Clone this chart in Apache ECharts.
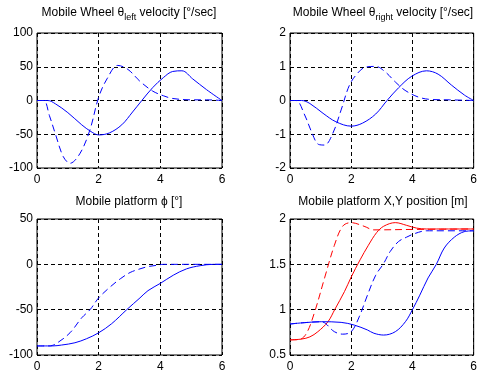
<!DOCTYPE html>
<html>
<head>
<meta charset="utf-8">
<script src="https://cdn.jsdelivr.net/npm/echarts@6/dist/echarts.min.js"></script>
<style>html,body{margin:0;padding:0;background:#fff;}#c{width:480px;height:374px;}</style>
</head>
<body>
<div id="c"></div>
<script>
// Top-left: left wheel velocity [deg/sec]
var tlSolid = [[0,0],[0.35,0],[0.6,-5],[1,-18],[1.45,-36],[1.75,-46],[2,-51],[2.35,-48],[2.75,-36],[3.1,-17],[3.4,0],[3.75,19],[4.1,34],[4.4,43],[4.7,44],[5.05,32],[5.5,16],[6,0]];
var tlDashed = [[0,0],[0.22,0],[0.4,-22],[0.6,-50],[0.85,-83],[1.07,-93],[1.4,-78],[1.72,-43],[2,5],[2.27,32],[2.62,52],[2.95,46],[3.35,28],[3.75,14],[4.1,7],[4.4,3],[5,1],[5.5,1],[6,0]];
// Top-right: right wheel velocity
var trSolid = [[0,0],[0.38,0],[0.65,-0.09],[1.08,-0.38],[1.5,-0.63],[2,-0.76],[2.37,-0.67],[2.8,-0.4],[3.17,0],[3.55,0.38],[3.98,0.72],[4.46,0.88],[4.84,0.78],[5.27,0.46],[5.7,0.16],[6,0]];
var trDashed = [[0,0],[0.2,0],[0.48,-0.43],[0.7,-0.92],[0.93,-1.3],[1.13,-1.32],[1.4,-0.97],[1.67,-0.28],[1.94,0.45],[2.2,0.8],[2.47,0.99],[2.8,1.01],[3.12,0.84],[3.44,0.55],[3.76,0.3],[4.2,0.1],[4.62,0.03],[5.2,0.02],[6,0]];
// Bottom-left: platform phi [deg]
var blSolid = [[0,-90],[0.5,-90],[0.8,-89],[1.23,-86.5],[1.61,-82],[2,-75.5],[2.42,-65.5],[2.91,-50],[3.34,-37],[3.6,-29],[4,-21],[4.42,-12],[4.85,-5],[5.29,-1.5],[5.72,0],[6,0]];
var blDashed = [[0,-90],[0.4,-90],[0.64,-87],[1.07,-75.5],[1.45,-59],[1.72,-50],[2,-37],[2.37,-25],[2.7,-16],[3.02,-9],[3.34,-5],[3.6,-2.5],[3.9,-1],[4.1,0],[6,0]];
// Bottom-right: platform X,Y position [m]
var brRedSolid = [[0,0.667],[0.38,0.676],[0.65,0.7],[0.91,0.757],[1.24,0.867],[1.46,1.0],[1.78,1.2],[2,1.36],[2.29,1.55],[2.56,1.71],[2.83,1.85],[3.06,1.92],[3.44,1.96],[3.81,1.93],[4.13,1.9],[4.45,1.89],[6,1.89]];
var brRedDashed = [[0,0.667],[0.3,0.67],[0.54,0.74],[0.81,0.98],[1.13,1.35],[1.45,1.71],[1.72,1.92],[1.99,1.96],[2.42,1.92],[2.74,1.88],[4,1.885],[6,1.89]];
var brBlueSolid = [[0,0.842],[0.48,0.857],[1.02,0.867],[1.67,0.86],[2.1,0.83],[2.53,0.776],[2.74,0.74],[3.06,0.72],[3.44,0.757],[3.77,0.867],[4,1.0],[4.24,1.16],[4.51,1.35],[4.78,1.5],[5.04,1.68],[5.37,1.8],[5.69,1.86],[6,1.87]];
var brBlueDashed = [[0,0.842],[0.48,0.857],[1.02,0.867],[1.45,0.757],[1.72,0.73],[2,0.757],[2.26,0.92],[2.53,1.16],[2.8,1.38],[3.06,1.51],[3.27,1.64],[3.54,1.75],[3.81,1.8],[4.08,1.84],[4.45,1.87],[6,1.87]];

var xRange = {min: 0, max: 6, interval: 2};
var yRanges = [
  {min: -100, max: 100, interval: 50},
  {min: -2, max: 2, interval: 1},
  {min: -100, max: 50, interval: 50},
  {min: 0.5, max: 2, interval: 0.5}
];

var FONT = "'Liberation Sans', Arial, sans-serif";
var grids = [
  {left: 37, top: 33, width: 185, height: 135},
  {left: 290, top: 33, width: 186, height: 135},
  {left: 37, top: 219, width: 185, height: 136},
  {left: 290, top: 219, width: 186, height: 136}
];
grids.forEach(function(g){ g.show = true; g.borderColor = '#000'; g.borderWidth = 1; g.backgroundColor = '#fff'; });

var splitStyle = {show: true, lineStyle: {color: '#000', type: [4, 3], width: 1}};
var labelStyle = {color: '#000', fontFamily: FONT, fontSize: 12};

var xAxes = grids.map(function(g, i){
  return {type: 'value', gridIndex: i, min: xRange.min, max: xRange.max, interval: xRange.interval,
    axisLine: {show: false}, axisTick: {show: false}, splitLine: splitStyle,
    axisLabel: Object.assign({margin: 6}, labelStyle)};
});
var yAxes = grids.map(function(g, i){
  return {type: 'value', gridIndex: i, min: yRanges[i].min, max: yRanges[i].max, interval: yRanges[i].interval,
    axisLine: {show: false}, axisTick: {show: false}, splitLine: splitStyle,
    axisLabel: Object.assign({margin: 4}, labelStyle)};
});

function line(data, idx, color, dashed){
  return {type: 'line', xAxisIndex: idx, yAxisIndex: idx, data: data, showSymbol: false, symbol: 'none',
    smooth: 0.35, lineStyle: {color: color, width: 1, type: dashed ? [7, 4] : 'solid'}, silent: true};
}

var BLUE = '#0000ff', RED = '#ff0000';
var titleRich = {
  a: {fontFamily: FONT, fontSize: 12, fontWeight: 'normal', color: '#000'},
  s: {fontFamily: FONT, fontSize: 9, fontWeight: 'normal', color: '#000', padding: [9, 0, 0, 0]}
};
function mkTitle(text, cx, top){
  return {text: text, left: cx, top: top, textAlign: 'center', padding: 0,
    textStyle: {rich: titleRich, fontFamily: FONT, fontSize: 12, fontWeight: 'normal', color: '#000'}};
}

var option = {
  animation: false,
  backgroundColor: '#fff',
  title: [
    mkTitle('{a|Mobile Wheel θ}{s|left}{a| velocity [°/sec]}', 129, 4),
    mkTitle('{a|Mobile Wheel θ}{s|right}{a| velocity [°/sec]}', 383, 4),
    mkTitle('{a|Mobile platform ϕ [°]}', 129, 196),
    mkTitle('{a|Mobile platform X,Y position [m]}', 383, 196)
  ],
  grid: grids,
  xAxis: xAxes,
  yAxis: yAxes,
  series: [
    line(tlSolid, 0, BLUE, false),
    line(tlDashed, 0, BLUE, true),
    line(trSolid, 1, BLUE, false),
    line(trDashed, 1, BLUE, true),
    line(blSolid, 2, BLUE, false),
    line(blDashed, 2, BLUE, true),
    line(brRedSolid, 3, RED, false),
    line(brRedDashed, 3, RED, true),
    line(brBlueSolid, 3, BLUE, false),
    line(brBlueDashed, 3, BLUE, true)
  ]
};
var chart = echarts.init(document.getElementById('c'), null, {renderer: 'canvas'});
chart.setOption(option);
</script>
</body>
</html>
